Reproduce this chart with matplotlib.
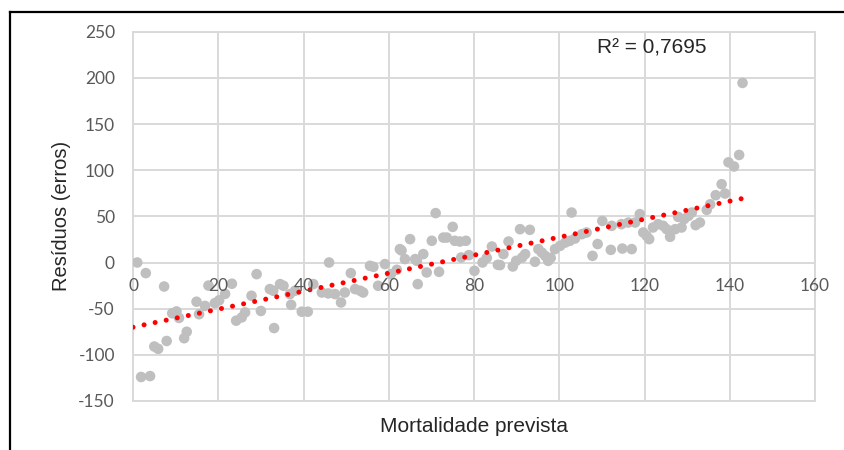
import numpy as np
import matplotlib
matplotlib.use("Agg")
import matplotlib.pyplot as plt
from matplotlib.lines import Line2D

plt.rcParams["axes.unicode_minus"] = False

# Predicted mortality (x) and residuals (y)
mortalidade_prevista = [
    1.0, 1.9, 3.0, 4.0, 5.0, 5.9, 7.3, 7.9, 9.2, 10.2, 10.8, 12.0, 12.6, 14.9,
    15.5, 16.9, 17.7, 19.2, 20.2, 21.6, 23.2, 24.2, 25.5, 26.3, 27.8, 29.0,
    30.0, 32.1, 32.9, 33.1, 34.5, 35.3, 36.8, 37.1, 38.0, 39.6, 41.0, 42.3,
    44.3, 45.8, 46.0, 47.4, 48.8, 49.7, 51.1, 52.1, 53.3, 54.0, 55.6, 56.4,
    57.5, 59.1, 60.5, 61.9, 62.6, 63.0, 63.8, 65.0, 66.2, 66.6, 66.8, 68.1,
    68.9, 70.1, 71.0, 71.8, 72.8, 73.6, 75.0, 75.5, 76.7, 77.0, 78.1, 78.8,
    80.1, 82.0, 83.0, 84.2, 85.6, 86.1, 86.9, 88.1, 89.1, 89.9, 90.8, 91.3,
    92.0, 93.1, 94.3, 95.1, 95.9, 96.7, 97.4, 98.0, 99.0, 100.2, 101.4, 102.5,
    102.9, 103.7, 105.3, 106.4, 107.8, 109.0, 110.1, 112.1, 112.3, 114.6,
    114.8, 116.2, 117.0, 117.8, 118.9, 119.7, 120.5, 121.1, 122.0, 123.2,
    124.4, 125.2, 126.0, 127.2, 127.9, 128.7, 129.3, 130.3, 131.1, 132.0,
    133.0, 134.6, 135.4, 136.7, 138.1, 138.9, 139.7, 141.0, 142.2, 143.0,
]
residuos = [
    0.0, -124.0, -11.5, -123.0, -91.0, -93.5, -26.0, -85.0, -55.0, -53.0,
    -60.0, -82.0, -75.0, -42.5, -56.0, -47.0, -25.0, -44.0, -41.0, -34.0,
    -23.0, -63.0, -59.5, -54.0, -36.0, -12.6, -52.5, -28.8, -30.6, -71.0,
    -23.4, -25.2, -34.2, -45.8, -30.6, -53.3, -53.3, -23.4, -32.5, -33.5,
    0.0, -34.2, -43.3, -32.5, -11.5, -28.8, -30.6, -32.5, -3.6, -4.7, -25.2,
    -1.7, -12.6, -7.9, 14.5, 13.0, 3.7, 25.3, 3.7, 1.8, -23.4, 9.1, -10.8,
    23.5, 53.5, -10.1, 27.0, 27.0, 38.6, 23.5, 22.7, 5.4, 23.5, 8.0, -9.0,
    0.0, 5.0, 17.3, -2.5, -2.8, 9.1, 22.7, -4.3, 1.8, 36.1, 5.4, 9.1, 35.4,
    0.8, 14.5, 10.8, 7.2, 1.8, 5.0, 14.5, 18.0, 21.6, 23.5, 54.1, 26.0, 30.7,
    32.5, 7.2, 20.0, 45.0, 13.7, 39.7, 41.5, 15.1, 43.3, 14.5, 43.3, 52.4,
    32.5, 28.9, 25.3, 37.9, 41.5, 39.7, 36.1, 27.8, 36.1, 49.4, 37.9, 47.0,
    50.5, 54.1, 40.5, 43.3, 57.0, 63.0, 72.9, 84.8, 74.7, 108.5, 104.0,
    116.5, 194.5,
]
r2_texto = "R² = 0,7695"

x_ticks = [0, 20, 40, 60, 80, 100, 120, 140, 160]
y_ticks = [-150, -100, -50, 0, 50, 100, 150, 200, 250]

x = np.array(mortalidade_prevista)
y = np.array(residuos)

fig = plt.figure(figsize=(8.45, 4.5), dpi=100)
ax = fig.add_axes([0.1574, 0.1089, 0.8071, 0.8207])

grid_color = "#D9D9D9"
tick_color = "#595959"
label_color = "#262626"

ax.set_xlim(x_ticks[0], x_ticks[-1])
ax.set_ylim(y_ticks[0], y_ticks[-1])
ax.set_xticks(x_ticks)
ax.set_yticks(y_ticks)
ax.set_axisbelow(True)
ax.grid(True, color=grid_color, linewidth=1.4)
for s in ax.spines.values():
    s.set_color(grid_color)
    s.set_linewidth(1.4)

ax.tick_params(axis="both", length=0)
ax.tick_params(axis="y", pad=13, labelsize=12.5, labelcolor=tick_color)
ax.set_xticklabels([])
for lab in ax.get_yticklabels():
    lab.set_fontfamily("Lato")

# x tick labels sit just below the zero line, above the points
for t in x_ticks:
    ax.text(t, -17, str(t), ha="center", va="top", fontsize=12.5,
            color=tick_color, family="Lato", zorder=6)

ax.scatter(x, y, s=58, color="#BFBFBF", edgecolors="none", zorder=3)

# Linear trend line over the data range
coef = np.polyfit(x, y, 1)
xt = np.array([x.min() - 1.0, x.max()])
ax.plot(xt, np.polyval(coef, xt), color="#FF0000", linewidth=3.6,
        linestyle=(0, (0.01, 2.25)), dash_capstyle="round", zorder=4)

ax.text(0.761, 0.955, r2_texto, transform=ax.transAxes, ha="center",
        va="center", fontsize=15, family="Liberation Sans", color=label_color)

ax.set_xlabel("Mortalidade prevista", fontsize=15, family="Liberation Sans",
              color=label_color, labelpad=8)
ax.set_ylabel("Resíduos (erros)", fontsize=14.5, family="Liberation Sans",
              color=label_color, labelpad=5)

# Outer frame edges (top and left)
fig.add_artist(Line2D([10 / 845, 1.0], [1 - 12 / 450, 1 - 12 / 450],
                      transform=fig.transFigure, color="black", linewidth=1.6))
fig.add_artist(Line2D([10 / 845, 10 / 845], [0.0, 1 - 12 / 450],
                      transform=fig.transFigure, color="black", linewidth=1.6))

fig.savefig("out.png", dpi=100, facecolor="white")
